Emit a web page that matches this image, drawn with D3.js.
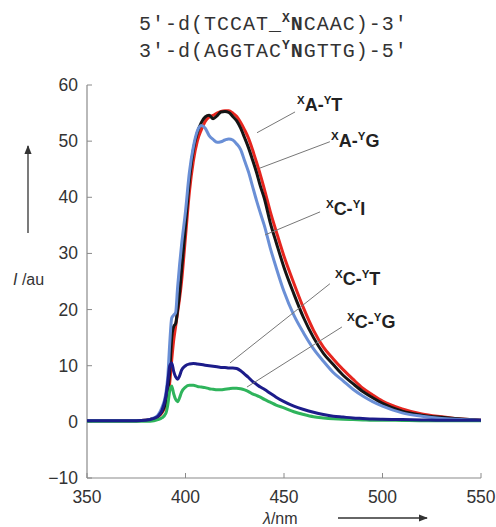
<!DOCTYPE html>
<html>
<head>
<meta charset="utf-8">
<script src="https://cdn.jsdelivr.net/npm/d3@7"></script>
<style>
  body { margin: 0; background: #fff; }
  svg { display: block; }
  .tick-label { font-family: "Liberation Sans", Arial, sans-serif; font-size: 17.5px; fill: #333; }
  .axis-title { font-family: "Liberation Sans", Arial, sans-serif; font-size: 16px; fill: #333; }
  .seq { font-family: "Liberation Mono", "Courier New", monospace; font-size: 20px; fill: #333; letter-spacing: 1px; }
  .lbl { font-family: "Liberation Sans", Arial, sans-serif; font-size: 18px; font-weight: bold; fill: #222; }
</style>
</head>
<body>
<svg id="chart" width="496" height="527"></svg>
<script>
// wavelength grid (nm) shared by every spectrum
const wavelength = [350, 360, 370, 380, 384, 386, 388, 390, 391, 392, 393, 394, 395, 396, 397, 398,
	400, 402, 404, 406, 408, 410, 412, 414, 416, 418, 420, 422, 424, 426, 428, 430, 432, 434, 436,
	438, 440, 443, 446, 450, 455, 460, 465, 470, 475, 480, 485, 490, 495, 500, 510, 520, 530, 540, 550];

// XA-YT (red)
const intensityAT = [0.2, 0.2, 0.2, 0.3, 0.6, 0.9, 1.6, 3.0, 4.5, 7, 11, 14.5, 17, 19.5, 22, 25,
	33, 41, 46.5, 50, 52, 53.5, 54.3, 54.6, 55, 55.3, 55.4, 55.4, 55, 54.4, 53.3, 52, 50.5, 48.5, 46.3,
	44, 41.5, 37.5, 34, 29.5, 24.7, 20.2, 16.3, 13.3, 11.2, 9.3, 7.6, 6.0, 4.8, 3.7, 2.3, 1.4, 0.9, 0.5, 0.3];

// XA-YG (black)
const intensityAG = [0.2, 0.2, 0.2, 0.3, 0.6, 1.0, 1.8, 3.5, 5.5, 9, 15, 17, 17.5, 20, 23, 27,
	35, 43, 48.5, 51.5, 53.3, 54.3, 54.6, 54.0, 54.5, 55.2, 55.3, 55.1, 54.4, 53.6, 52.3, 50.6, 48.8, 46.7, 44.5,
	42, 39.8, 35.5, 32, 27.5, 22.8, 18.5, 15, 12.2, 10.2, 8.3, 6.8, 5.4, 4.3, 3.3, 1.9, 1.2, 0.8, 0.5, 0.3];

// XC-YI (light blue)
const intensityCI = [0.2, 0.2, 0.2, 0.3, 0.7, 1.2, 2.5, 5, 8, 14, 18.5, 19, 19.5, 24, 28, 31.5,
	37.5, 44.5, 49, 51.8, 52.8, 52.3, 51, 50.3, 49.8, 49.9, 50.2, 50.4, 50.2, 49.5, 48.5, 46.5, 44.5, 42, 39.5,
	37.2, 35, 31, 27.5, 23.2, 19, 15.8, 13, 10.8, 8.8, 7.3, 5.8, 4.6, 3.6, 2.8, 1.6, 1.0, 0.6, 0.4, 0.3];

// XC-YT (dark blue)
const intensityCT = [0.2, 0.2, 0.2, 0.3, 0.6, 1.0, 2, 4.5, 7, 10, 10.5, 9, 8, 7.6, 8.2, 9.2,
	10.0, 10.3, 10.4, 10.3, 10.2, 10.1, 10.0, 9.9, 9.8, 9.7, 9.7, 9.6, 9.6, 9.5, 9.1, 8.5, 7.9, 7.2, 6.7,
	6.2, 5.8, 5.1, 4.4, 3.6, 2.8, 2.2, 1.7, 1.3, 1.0, 0.85, 0.7, 0.6, 0.5, 0.45, 0.4, 0.35, 0.3, 0.3, 0.3];

// XC-YG (green)
const intensityCG = [0.1, 0.1, 0.1, 0.1, 0.2, 0.4, 0.7, 1.5, 3, 5.5, 6.4, 5, 4, 3.6, 4.3, 5.3,
	6.2, 6.5, 6.5, 6.3, 6.2, 6.1, 5.9, 5.8, 5.7, 5.7, 5.8, 5.9, 6.0, 6.0, 5.9, 5.7, 5.4, 5.0, 4.7,
	4.4, 4.0, 3.5, 3.0, 2.5, 1.8, 1.3, 0.9, 0.7, 0.55, 0.45, 0.4, 0.35, 0.3, 0.3, 0.25, 0.2, 0.2, 0.2, 0.2];

const xTicks = [350, 400, 450, 500, 550];
const yTicks = [-10, 0, 10, 20, 30, 40, 50, 60];

// draw order: red underneath, dark blue on top
const series = [
	{ key: 'AT', values: intensityAT, color: '#e6261f' },
	{ key: 'AG', values: intensityAG, color: '#151515' },
	{ key: 'CI', values: intensityCI, color: '#6a8fd6' },
	{ key: 'CG', values: intensityCG, color: '#2fb45c' },
	{ key: 'CT', values: intensityCT, color: '#1c1c8a' }
];

// labels: base pair, text anchor and leader line, all in data units (nm, au)
const labels = [
	{ a: 'A', b: 'T', at: [456.6, 55.3], from: [436.3, 51.5], to: [455.6, 55.2] },
	{ a: 'A', b: 'G', at: [473.9, 48.9], from: [437.8, 45.2], to: [473.3, 49.9] },
	{ a: 'C', b: 'I', at: [471.3, 36.9], from: [440.4, 33.3], to: [468.3, 37.4] },
	{ a: 'C', b: 'T', at: [475.9, 24.4], from: [422.6, 10.5], to: [473.3, 24.6] },
	{ a: 'C', b: 'G', at: [482.0, 16.8], from: [431.2, 6.2], to: [479.4, 16.9] }
];

const svg = d3.select('#chart');

const x = d3.scaleLinear().domain([350, 550]).range([87, 481]);
const y = d3.scaleLinear().domain([-10, 60]).range([478, 85]);

// axes (ticks point inward)
const axisColor = '#8a8a8a';

svg.append('line')
	.attr('x1', x(350)).attr('x2', x(550))
	.attr('y1', y(-10)).attr('y2', y(-10))
	.attr('stroke', axisColor).attr('stroke-width', 1.2);

svg.append('line')
	.attr('x1', x(350)).attr('x2', x(350))
	.attr('y1', y(-10)).attr('y2', y(60))
	.attr('stroke', axisColor).attr('stroke-width', 1.2);

svg.selectAll('.xtick')
	.data(xTicks)
	.enter().append('line')
		.attr('class', 'xtick')
		.attr('x1', d => x(d)).attr('x2', d => x(d))
		.attr('y1', y(-10)).attr('y2', y(-10) - 5)
		.attr('stroke', axisColor);

svg.selectAll('.ytick')
	.data(yTicks)
	.enter().append('line')
		.attr('class', 'ytick')
		.attr('x1', x(350)).attr('x2', x(350) + 5)
		.attr('y1', d => y(d)).attr('y2', d => y(d))
		.attr('stroke', axisColor);

svg.selectAll('.xlab')
	.data(xTicks)
	.enter().append('text')
		.attr('class', 'tick-label')
		.attr('x', d => x(d))
		.attr('y', y(-10) + 25)
		.attr('text-anchor', 'middle')
		.text(d => d);

svg.selectAll('.ylab')
	.data(yTicks)
	.enter().append('text')
		.attr('class', 'tick-label')
		.attr('x', x(350) - 9)
		.attr('y', d => y(d) + 6)
		.attr('text-anchor', 'end')
		.text(d => d === -10 ? '\u221210' : d);

// spectra
const line = d3.line()
	.x((d, i) => x(wavelength[i]))
	.y(d => y(d))
	.curve(d3.curveMonotoneX);

svg.selectAll('.spectrum')
	.data(series)
	.enter().append('path')
		.attr('class', 'spectrum')
		.attr('fill', 'none')
		.attr('stroke', d => d.color)
		.attr('stroke-width', 3)
		.attr('stroke-linejoin', 'round')
		.attr('d', d => line(d.values));

// leader lines and labels
svg.selectAll('.leader')
	.data(labels)
	.enter().append('line')
		.attr('class', 'leader')
		.attr('x1', d => x(d.from[0])).attr('y1', d => y(d.from[1]))
		.attr('x2', d => x(d.to[0])).attr('y2', d => y(d.to[1]))
		.attr('stroke', '#777').attr('stroke-width', 1);

const lbl = svg.selectAll('.lbl')
	.data(labels)
	.enter().append('text')
		.attr('class', 'lbl')
		.attr('x', d => x(d.at[0]))
		.attr('y', d => y(d.at[1]));

lbl.append('tspan').attr('font-size', 11.5).attr('dy', -7).text('X');
lbl.append('tspan').attr('dy', 7).text(d => d.a + '-');
lbl.append('tspan').attr('font-size', 11.5).attr('dy', -7).text('Y');
lbl.append('tspan').attr('dy', 7).text(d => d.b);

// sequence header
const seq1 = svg.append('text').attr('class', 'seq').attr('x', 139).attr('y', 30);
seq1.append('tspan').text('5\u2032-d(TCCAT_');
seq1.append('tspan').attr('font-size', 13).attr('font-weight', 'bold').attr('dy', -8).text('X');
seq1.append('tspan').attr('font-weight', 'bold').attr('dy', 8).text('N');
seq1.append('tspan').text('CAAC)-3\u2032');

const seq2 = svg.append('text').attr('class', 'seq').attr('x', 139).attr('y', 57);
seq2.append('tspan').text('3\u2032-d(AGGTAC');
seq2.append('tspan').attr('font-size', 13).attr('font-weight', 'bold').attr('dy', -8).text('Y');
seq2.append('tspan').attr('font-weight', 'bold').attr('dy', 8).text('N');
seq2.append('tspan').text('GTTG)-5\u2032');

// axis titles with arrows
const defs = svg.append('defs');
defs.append('marker')
	.attr('id', 'arrow')
	.attr('viewBox', '0 0 10 10')
	.attr('refX', 9).attr('refY', 5)
	.attr('markerWidth', 7).attr('markerHeight', 7)
	.attr('orient', 'auto')
	.append('path')
		.attr('d', 'M0,1 L10,5 L0,9 Z')
		.attr('fill', '#333');

svg.append('line')
	.attr('x1', 28).attr('y1', 233)
	.attr('x2', 28).attr('y2', 146)
	.attr('stroke', '#333').attr('stroke-width', 1.3)
	.attr('marker-end', 'url(#arrow)');

const yTitle = svg.append('text')
	.attr('class', 'axis-title')
	.attr('x', 13).attr('y', 285);
yTitle.append('tspan').attr('font-style', 'italic').text('I');
yTitle.append('tspan').text(' /au');

const xTitle = svg.append('text')
	.attr('class', 'axis-title')
	.attr('x', 263).attr('y', 524);
xTitle.append('tspan').attr('font-style', 'italic').text('\u03bb');
xTitle.append('tspan').text('/nm');

svg.append('line')
	.attr('x1', 338).attr('y1', 518)
	.attr('x2', 427).attr('y2', 518)
	.attr('stroke', '#333').attr('stroke-width', 1.3)
	.attr('marker-end', 'url(#arrow)');
</script>
</body>
</html>
